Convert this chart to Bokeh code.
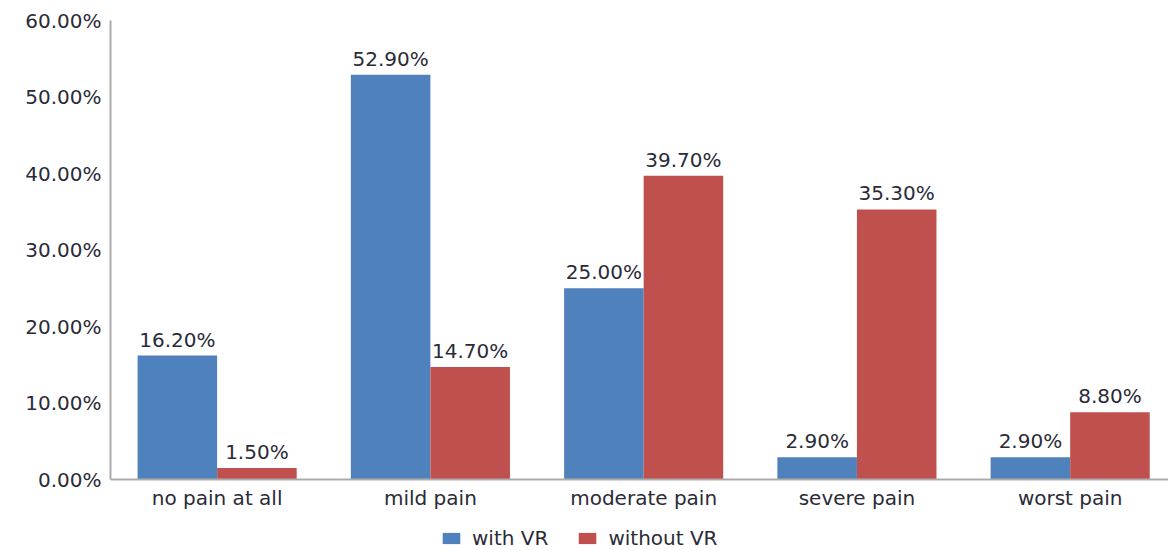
from bokeh.plotting import figure
from bokeh.models import (Range1d, FixedTicker, PrintfTickFormatter, ColumnDataSource,
                          Legend, LegendItem)
from bokeh.core.properties import value
from bokeh.embed import file_html
from bokeh.resources import INLINE

# Pain level reported by patients, with and without VR
categories = ["no pain at all", "mild pain", "moderate pain", "severe pain", "worst pain"]
with_vr = [16.2, 52.9, 25.0, 2.9, 2.9]
without_vr = [1.5, 14.7, 39.7, 35.3, 8.8]
y_ticks = [0, 10, 20, 30, 40, 50, 60]

BLUE = "#4F81BD"
RED = "#C0504D"
TEXT = "#2b2b38"
FONT = "DejaVu Sans"
FS = "20px"

bar_w = 0.373
centers = [i + 0.5 for i in range(len(categories))]

src_a = ColumnDataSource(dict(
    x=[c - bar_w / 2 for c in centers], y=with_vr,
    lab=[f"{v:.2f}%" for v in with_vr]))
src_b = ColumnDataSource(dict(
    x=[c + bar_w / 2 for c in centers], y=without_vr,
    lab=[f"{v:.2f}%" for v in without_vr]))

# the frame runs to the bottom of the page; the band under y=0 holds the
# category labels and the legend
p = figure(width=1168, height=550, output_backend="svg", toolbar_location=None,
           x_range=Range1d(0, 4.961), y_range=Range1d(-9.28, 60),
           min_border_left=110, min_border_right=0, min_border_top=20,
           min_border_bottom=0)
p.outline_line_color = None
p.grid.visible = False
p.background_fill_color = "white"
p.border_fill_color = "white"

ra = p.vbar(x="x", top="y", width=bar_w, source=src_a, fill_color=BLUE, line_color=None)
rb = p.vbar(x="x", top="y", width=bar_w, source=src_b, fill_color=RED, line_color=None)

# value labels above each bar
for src in (src_a, src_b):
    p.text(x="x", y="y", text="lab", source=src, text_align="center",
           text_baseline="bottom", y_offset=-4, text_color=TEXT,
           text_font=value(FONT), text_font_size=value(FS))

# axes
p.yaxis.ticker = FixedTicker(ticks=y_ticks)
p.yaxis.formatter = PrintfTickFormatter(format="%.2f%%")
p.yaxis.bounds = (0, 60)
p.xaxis.ticker = FixedTicker(ticks=centers)
p.xaxis.major_label_overrides = {c: name for c, name in zip(centers, categories)}
p.xaxis.fixed_location = 0
for ax in (p.xaxis, p.yaxis):
    ax.axis_line_color = "#ABABAB"
    ax.axis_line_width = 2
    ax.major_tick_line_color = None
    ax.minor_tick_line_color = None
    ax.major_label_text_font = FONT
    ax.major_label_text_font_size = FS
    ax.major_label_text_color = TEXT
p.yaxis.major_label_standoff = 3
p.xaxis.major_label_standoff = 0

legend = Legend(items=[LegendItem(label="with VR", renderers=[ra]),
                       LegendItem(label="without VR", renderers=[rb])],
                location=(330, 0), orientation="horizontal",
                padding=0, margin=0, spacing=28, label_standoff=10,
                glyph_width=22, glyph_height=14,
                border_line_color=None, background_fill_alpha=0,
                label_text_font=FONT, label_text_font_size=FS,
                label_text_color=TEXT)
p.add_layout(legend, "center")

open("out.html", "w").write(file_html(p, INLINE))
